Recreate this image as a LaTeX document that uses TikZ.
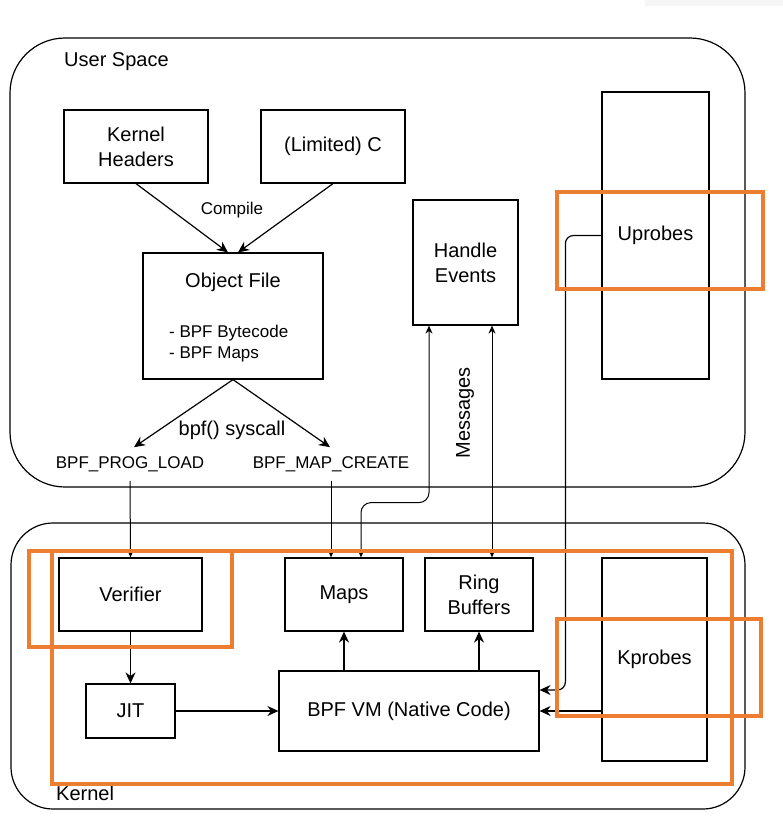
\documentclass[tikz,border=0pt]{standalone}
\usepackage{fontspec}
\setmainfont{Liberation Sans}
\usepackage{xcolor}
\usetikzlibrary{arrows.meta,positioning}
\definecolor{hiliteorange}{RGB}{237,125,49}
\definecolor{stripgray}{RGB}{246,246,246}
\newcommand{\diagfont}{\fontsize{20}{25}\selectfont}
\newcommand{\diagsmall}{\fontsize{17}{21}\selectfont}

\begin{document}
\begin{tikzpicture}[x=1pt, y=-1pt,
        box/.style={draw, line width=1.2pt, inner sep=0pt, align=center, font=\diagfont},
        space/.style={draw, line width=1.2pt, inner sep=0pt},
        txt/.style={inner sep=0pt, font=\diagfont},
        smalltxt/.style={inner sep=0pt, font=\diagsmall},
        link/.style={line width=1.2pt, -{Stealth[length=11pt,width=10pt]}},
        feed/.style={line width=1pt, -{Stealth[length=8pt,width=7pt]}},
        both/.style={line width=1pt, {Stealth[length=8pt,width=7pt]}-{Stealth[length=8pt,width=7pt]}},
        hilite/.style={draw=hiliteorange, line width=4pt}]
    \useasboundingbox (0,0) rectangle (783,839);
    \fill[stripgray] (645,0) rectangle (783,6);

    % user space
    \node[space, rounded corners=55pt, minimum width=735pt, minimum height=449pt] (userspace) at (377.5,262.5) {};
    \node[txt, anchor=west] (userlabel) at (64,62) {User Space};
    \node[box, minimum width=144pt, minimum height=73pt] (hdrs) at (136,146.5) {Kernel\\Headers};
    \node[box, minimum width=144pt, minimum height=73pt] (limc) at (333,146.5) {(Limited) C};
    \node[smalltxt] (compile) at (232,210) {Compile};
    \node[box, minimum width=180pt, minimum height=126pt] (objfile) at (233,316) {};
    \node[txt] (objtitle) at (233,282) {Object File};
    \node[smalltxt, anchor=west, align=left] (objlist) at (169,343.5) {- BPF Bytecode\\- BPF Maps};
    \node[txt] (syscall) at (232,430) {bpf() syscall};
    \node[smalltxt, inner ysep=9pt] (progload) at (130,464) {BPF\_PROG\_LOAD};
    \node[smalltxt, inner ysep=9pt] (mapcreate) at (331,464) {BPF\_MAP\_CREATE};
    \node[box, minimum width=105pt, minimum height=125pt] (events) at (465.5,262.5) {Handle\\Events};
    \node[txt, rotate=90] (messages) at (465,413) {Messages};
    \node[box, minimum width=107pt, minimum height=287pt] (uprobes) at (655.5,235.5) {Uprobes};

    % kernel
    \node[space, rounded corners=42pt, minimum width=734pt, minimum height=286pt] (kernelspace) at (378,666) {};
    \node[txt, anchor=west] (kernellabel) at (56,793) {Kernel};
    \node[box, minimum width=143pt, minimum height=73pt] (verifier) at (130.5,594.5) {Verifier};
    \node[box, minimum width=118pt, minimum height=73pt] (maps) at (344,594.5) {Maps};
    \node[box, minimum width=108pt, minimum height=73pt] (ringbuf) at (479,594.5) {Ring\\Buffers};
    \node[box, minimum width=105pt, minimum height=203pt] (kprobes) at (654.5,659.5) {Kprobes};
    \node[box, minimum width=89pt, minimum height=54pt] (jit) at (130.5,711) {JIT};
    \node[box, minimum width=260pt, minimum height=80pt] (bpfvm) at (409,711) {BPF VM (Native Code)};

    % connectors
    \draw[link] (hdrs.south) -- ([xshift=-5pt]objfile.north);
    \draw[link] (limc.south) -- ([xshift=5pt]objfile.north);
    \draw[link] (objfile.south) -- ([xshift=4pt]progload.north);
    \draw[link] (objfile.south) -- ([xshift=-1pt]mapcreate.north);
    \draw[feed] (progload.south) -- (verifier.north);
    \draw[feed] (mapcreate.south) -- (mapcreate.south |- maps.north);
    \draw[both, rounded corners=10pt]
        ([xshift=-36.5pt]events.south) -- ++(0,177) -| ([xshift=17pt]maps.north);
    \draw[both] ([xshift=26.5pt]events.south) -- ([xshift=26.5pt]events.south |- ringbuf.north);
    \draw[link] (verifier.south) -- (jit.north);
    \draw[link] (jit.east) -- (bpfvm.west);
    \draw[link] (bpfvm.north -| maps.south) -- (maps.south);
    \draw[link] (ringbuf.south |- bpfvm.north) -- (ringbuf.south);
    \draw[link] (kprobes.west |- bpfvm.east) -- (bpfvm.east);
    \draw[link, rounded corners=8pt] (uprobes.west) -- ++(-36,0) |- ([yshift=21pt]bpfvm.east);

    % highlights
    \draw[hilite] (557,192) rectangle (763,289);
    \draw[hilite] (52,551) rectangle (732,784);
    \draw[hilite] (29,551) rectangle (232,647);
    \draw[hilite] (557,619) rectangle (761,716);
\end{tikzpicture}
\end{document}
